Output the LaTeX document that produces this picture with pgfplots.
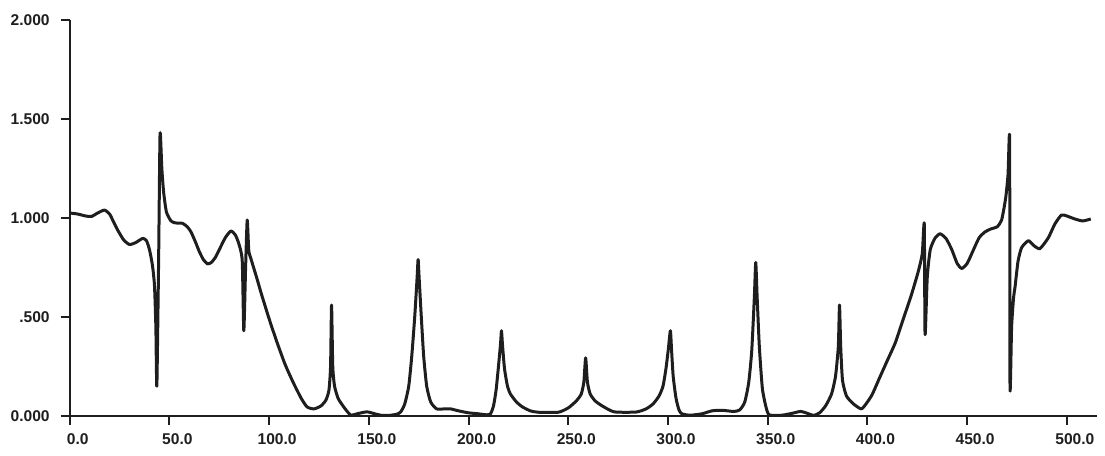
\documentclass[border=0pt]{standalone}
\usepackage{fontspec}
\usepackage{pgfplots}
\pgfplotsset{compat=1.18}
\newfontfamily\plotfont{Liberation Sans}
\definecolor{ink}{HTML}{1E1E1E}
\begin{document}
\begin{tikzpicture}
\begin{axis}[
  scale only axis,
  width=514pt, height=198pt,
  xmin=0, xmax=515, ymin=0, ymax=2,
  axis x line=bottom, axis y line=left,
  axis line style={-, line width=1.2pt, ink},
  tick style={line width=1pt, ink},
  tick align=outside,
  major tick length=4.5pt,
  xtick={0,50,...,500},
  xticklabels={0.0,50.0,100.0,150.0,200.0,250.0,300.0,350.0,400.0,450.0,500.0},
  ytick={0,0.5,1,1.5,2},
  yticklabels={0.000,.500,1.000,1.500,2.000},
  /pgf/number format/assume math mode=true,
  tick label style={font=\plotfont\bfseries\fontsize{7.8}{8}\selectfont, text=ink},
  xticklabel style={yshift=-1pt, xshift=4pt},
  yticklabel style={xshift=-2pt},
  clip=false,
]
\addplot[ink, line width=1.5pt, line join=round, smooth, tension=0.35] coordinates {
(0,1.025) (4,1.02) (8,1.01) (11,1.008) (14,1.025) (17.4,1.04) (20,1.02) (22,0.98)
(24,0.94) (27,0.89) (29.9,0.866) (33,0.875) (36.6,0.897) (38.5,0.885) (40,0.84)
(41.5,0.76) (42.5,0.66) (43.2,0.45) (43.7,0.15) (44.6,0.8) (45.3,1.425) (46.2,1.25)
(47.1,1.13) (48.5,1.03) (50.8,0.985) (53,0.975) (56.6,0.973) (59,0.955) (60.8,0.93)
(63,0.88) (65,0.83) (67,0.79) (69.1,0.768) (71,0.775) (73,0.8) (75,0.84) (78,0.9)
(80.8,0.934) (83,0.915) (84.8,0.87) (86.5,0.785) (87.3,0.43) (88.2,0.75) (89,0.99)
(89.8,0.835) (91,0.79) (94,0.69) (96,0.62) (100,0.49) (104,0.37) (108,0.26)
(112,0.17) (116,0.09) (119,0.045) (122.5,0.035) (126,0.05) (128.5,0.08) (130,0.13)
(130.8,0.25) (131.3,0.56) (131.9,0.25) (132.8,0.15) (134.5,0.09) (136,0.065)
(138.5,0.03) (141,0.003) (144,0.01) (149,0.02) (153,0.01) (156,0.003) (160,0.002)
(164,0.008) (166,0.02) (168,0.06) (170,0.15) (171.5,0.3) (173,0.5) (174.2,0.7)
(174.7,0.79) (175.2,0.7) (176.3,0.5) (177.5,0.3) (179,0.15) (181,0.07) (184,0.035)
(188,0.035) (191,0.035) (195,0.025) (200,0.015) (205,0.01) (209,0.005) (211,0.01)
(212.5,0.05) (213.8,0.13) (215,0.25) (216,0.36) (216.5,0.43) (217,0.36) (218,0.24)
(219.5,0.15) (221,0.11) (224,0.07) (227,0.045) (231,0.025) (235,0.018) (245,0.018)
(250,0.04) (254,0.075) (256.5,0.11) (257.8,0.17) (258.7,0.293) (259.6,0.17) (261,0.11)
(263.5,0.075) (267,0.05) (273,0.02) (284,0.019) (289,0.035) (292.5,0.06) (295.5,0.1)
(297.5,0.15) (299,0.24) (300.2,0.34) (301.2,0.43) (301.8,0.33) (302.6,0.2) (304,0.09)
(305.5,0.03) (307,0.01) (311,0.003) (317,0.01) (322,0.025) (327,0.028) (333,0.022)
(336,0.03) (338.5,0.07) (340.5,0.17) (342,0.33) (343.3,0.6) (344,0.775) (344.7,0.6)
(345.8,0.35) (347.3,0.14) (349,0.05) (350.7,0.005) (357,0.003) (362,0.012)
(366.5,0.022) (370,0.012) (373,0.002) (376,0.015) (379,0.05) (382,0.11) (384,0.2)
(385.4,0.35) (386,0.56) (386.6,0.35) (387.5,0.18) (389.5,0.1) (393,0.06) (397,0.035)
(400,0.07) (402.5,0.11) (406,0.19) (410,0.28) (414,0.37) (418,0.49) (422,0.61)
(425.5,0.73) (427.5,0.82) (428.5,0.97) (428.9,0.41) (430,0.7) (431.5,0.84) (434,0.9)
(436.5,0.92) (439.5,0.895) (442.3,0.84) (445,0.77) (447.3,0.745) (450,0.77)
(453.2,0.84) (456,0.9) (459,0.93) (462,0.945) (465,0.955) (467.3,0.99) (469.3,1.1)
(470.5,1.22) (471.3,1.40) (471.5,0.14) (472.3,0.45) (473.3,0.6) (474,0.65)
(475.5,0.78) (477.3,0.85) (480.7,0.885) (483.5,0.86) (486.5,0.845) (490.7,0.9)
(494,0.97) (497.3,1.015) (500,1.01) (504,0.995) (508,0.985) (512,0.995)
};
\end{axis}
\path ([shift={(-2pt,-2pt)}]current bounding box.south west) rectangle ([shift={(2pt,4pt)}]current bounding box.north east);
\end{tikzpicture}
\end{document}
